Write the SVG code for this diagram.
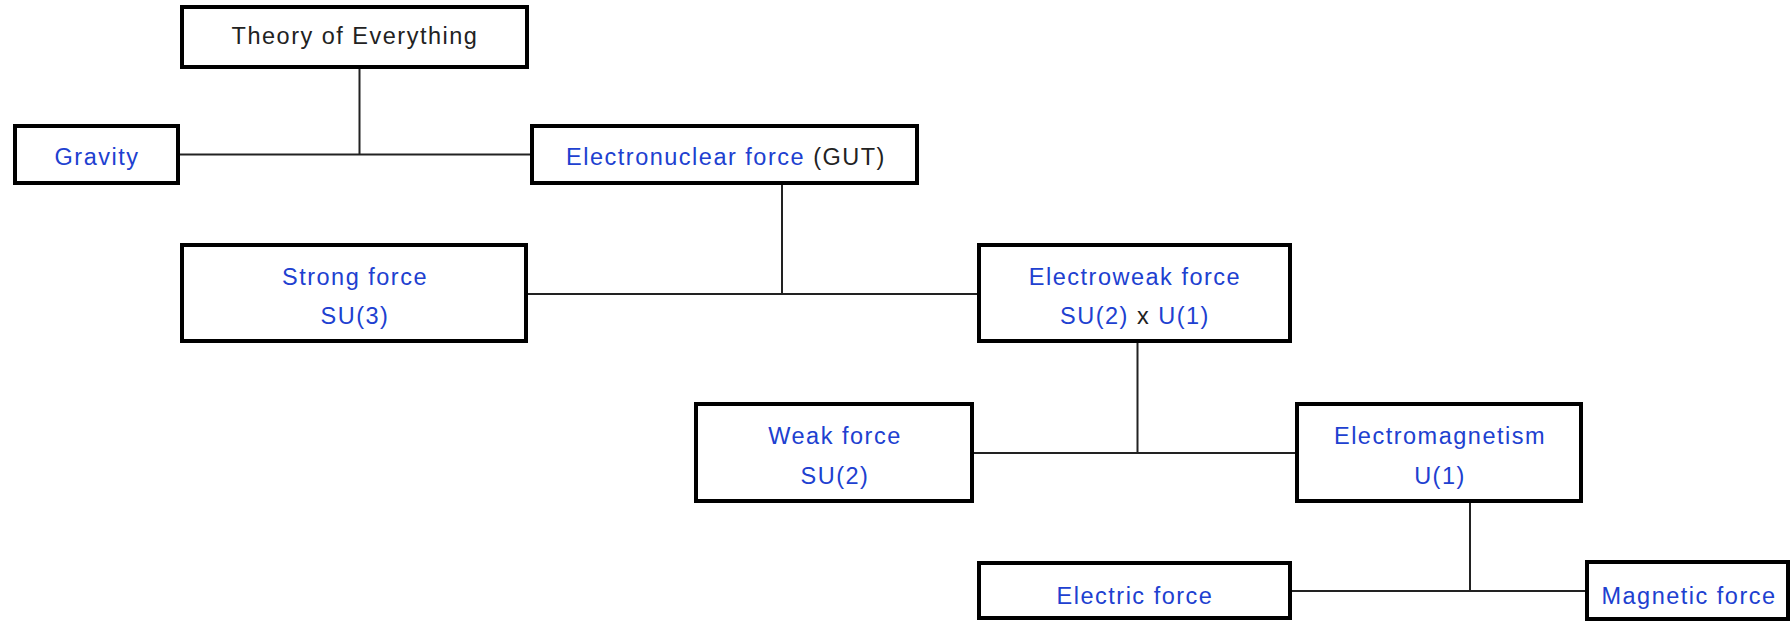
<svg xmlns="http://www.w3.org/2000/svg" width="1790" height="621" viewBox="0 0 1790 621">
<style>
.box{fill:#fff;stroke:#000;stroke-width:4}
.t{font-family:"Liberation Sans",Arial,sans-serif;font-size:23.5px;letter-spacing:1.5px;text-anchor:middle;fill:#2040d0}
.k{fill:#222}
.c{stroke:#222;stroke-width:2;fill:none}
</style>
<rect width="1790" height="621" fill="#fff"/>
<g id="connectors">
<path class="c" d="M359.5 69V154.5M180 154.5H530"/>
<path class="c" d="M782 185V294M528 294H977"/>
<path class="c" d="M1137.5 343V453M974 453H1295"/>
<path class="c" d="M1470 503V591M1292 591H1585"/>
</g>
<g id="toe"><rect class="box" x="182" y="7" width="345" height="60"/><text class="t k" x="355" y="43.5">Theory of Everything</text></g>
<g id="gravity"><rect class="box" x="15" y="126" width="163" height="57"/><text class="t" x="97" y="164.5">Gravity</text></g>
<g id="electronuclear"><rect class="box" x="532" y="126" width="385" height="57"/><text class="t" x="726" y="164.5">Electronuclear force <tspan class="k">(GUT)</tspan></text></g>
<g id="strong"><rect class="box" x="182" y="245" width="344" height="96"/><text class="t" x="355" y="284.5">Strong force</text><text class="t" x="355" y="323.5">SU(3)</text></g>
<g id="electroweak"><rect class="box" x="979" y="245" width="311" height="96"/><text class="t" x="1135" y="284.5">Electroweak force</text><text class="t" x="1135" y="323.5">SU(2) <tspan class="k">x</tspan> U(1)</text></g>
<g id="weak"><rect class="box" x="696" y="404" width="276" height="97"/><text class="t" x="835" y="443.5">Weak force</text><text class="t" x="835" y="483.5">SU(2)</text></g>
<g id="em"><rect class="box" x="1297" y="404" width="284" height="97"/><text class="t" x="1440" y="443.5">Electromagnetism</text><text class="t" x="1440" y="483.5">U(1)</text></g>
<g id="electric"><rect class="box" x="979" y="563" width="311" height="55"/><text class="t" x="1135" y="603.5">Electric force</text></g>
<g id="magnetic"><rect class="box" x="1587" y="562" width="201" height="57"/><text class="t" x="1689" y="603.5">Magnetic force</text></g>
</svg>
